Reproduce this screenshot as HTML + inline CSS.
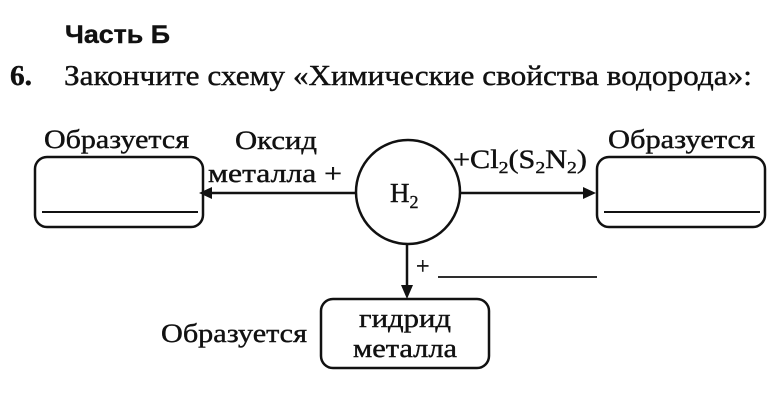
<!DOCTYPE html>
<html><head><meta charset="utf-8"><style>
html,body{margin:0;padding:0;background:#fff;width:768px;height:407px;overflow:hidden}
svg{display:block}
text{font-family:"Liberation Serif","Noto Serif CJK SC",serif;fill:#111;stroke:#111;stroke-width:0.4}
</style></head><body>
<svg width="768" height="407" viewBox="0 0 768 407" xmlns="http://www.w3.org/2000/svg">
<text x="65" y="43" style="font-family:'Liberation Sans',sans-serif;font-weight:bold" font-size="25" textLength="105" lengthAdjust="spacingAndGlyphs">Часть Б</text>
<text x="10" y="85" font-size="28" font-weight="bold" textLength="22" lengthAdjust="spacingAndGlyphs">6.</text>
<text x="64" y="85" font-size="28" textLength="688" lengthAdjust="spacingAndGlyphs">Закончите схему «Химические свойства водорода»:</text>

<g stroke="#111" stroke-width="2.5" fill="none">
<rect x="35" y="157" width="168" height="70" rx="12"/>
<rect x="597" y="157" width="168" height="70" rx="12"/>
<rect x="321" y="299" width="168" height="69" rx="12"/>
<ellipse cx="408" cy="192" rx="52" ry="52"/>
<line x1="42" y1="212" x2="198" y2="212" stroke-width="2"/>
<line x1="604" y1="212" x2="760" y2="212" stroke-width="2"/>
<line x1="356" y1="193" x2="210" y2="193"/>
<line x1="460" y1="193" x2="585" y2="193"/>
<line x1="407" y1="244" x2="407" y2="286"/>
<line x1="438" y1="277" x2="597" y2="277" stroke-width="1.8"/>
</g>
<polygon points="199,193 212,187 212,199" fill="#111"/>
<polygon points="596,193 583,187 583,199" fill="#111"/>
<polygon points="407,299 401,285 413,285" fill="#111"/>

<text x="44" y="148" font-size="26" textLength="145" lengthAdjust="spacingAndGlyphs">Образуется</text>
<text x="608" y="148" font-size="26" textLength="147" lengthAdjust="spacingAndGlyphs">Образуется</text>
<text x="235" y="149" font-size="26" textLength="82" lengthAdjust="spacingAndGlyphs">Оксид</text>
<text x="208" y="182" font-size="26" textLength="134" lengthAdjust="spacingAndGlyphs">металла +</text>
<text x="453" y="168" font-size="26" textLength="134" lengthAdjust="spacingAndGlyphs">+Cl<tspan font-size="17" dy="5">2</tspan><tspan dy="-5">(S</tspan><tspan font-size="17" dy="5">2</tspan><tspan dy="-5">N</tspan><tspan font-size="17" dy="5">2</tspan><tspan dy="-5">)</tspan></text>
<text x="390" y="202" font-size="27">H<tspan font-size="18" dy="6">2</tspan></text>
<text x="416" y="274" font-size="24">+</text>
<text x="405" y="327" font-size="26" text-anchor="middle" textLength="92" lengthAdjust="spacingAndGlyphs">гидрид</text>
<text x="405" y="357" font-size="26" text-anchor="middle" textLength="104" lengthAdjust="spacingAndGlyphs">металла</text>
<text x="161" y="342" font-size="26" textLength="146" lengthAdjust="spacingAndGlyphs">Образуется</text>
</svg>
</body></html>
